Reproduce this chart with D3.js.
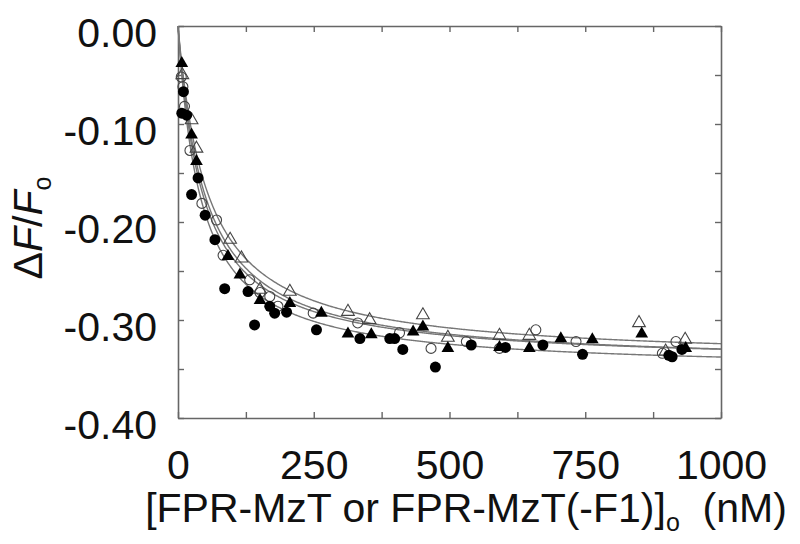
<!DOCTYPE html>
<html>
<head>
<meta charset="utf-8">
<script src="https://cdn.jsdelivr.net/npm/d3@7"></script>
<style>
  body { margin: 0; background: #fff; }
  svg { font-family: "Liberation Sans", Arial, Helvetica, sans-serif; }
</style>
</head>
<body>
<svg width="800" height="544"></svg>
<script>
// data: [concentration (nM), dF/Fo]
const filledCircles = [
  [10, -0.067], [7, -0.089], [16, -0.091], [37, -0.155], [25, -0.172], [50, -0.193],
  [68, -0.218], [86, -0.268], [129, -0.271], [141, -0.305], [169, -0.286], [178, -0.293],
  [200, -0.292], [255, -0.310], [335, -0.319], [390, -0.319], [399, -0.319], [414, -0.330],
  [474, -0.348], [540, -0.3255], [603, -0.328], [672, -0.3255], [745, -0.335], [904, -0.336],
  [910, -0.3375], [928, -0.330]
];
const openCircles = [
  [6, -0.052], [9, -0.062], [12, -0.082], [22, -0.127], [44, -0.181], [71, -0.198],
  [83, -0.234], [132, -0.259], [151, -0.272], [169, -0.276], [184, -0.286], [249, -0.293],
  [331, -0.303], [408, -0.313], [466, -0.329], [531, -0.322], [592, -0.329], [659, -0.310],
  [733, -0.322], [892, -0.334], [917, -0.322]
];
const filledTriangles = [
  [7, -0.038], [25, -0.111], [34, -0.138], [92, -0.235], [114, -0.254], [151, -0.280],
  [206, -0.283], [264, -0.293], [313, -0.314], [356, -0.315], [433, -0.312], [451, -0.307],
  [497, -0.329], [592, -0.328], [647, -0.329], [705, -0.319], [763, -0.320], [854, -0.314],
  [935, -0.329]
];
const openTriangles = [
  [8, -0.050], [25, -0.096], [34, -0.125], [96, -0.218], [117, -0.237], [151, -0.269],
  [206, -0.271], [313, -0.2915], [353, -0.300], [451, -0.295], [497, -0.318], [592, -0.316],
  [647, -0.316], [849, -0.303], [898, -0.332], [934, -0.320]
];

// hyperbolic fit parameters for each set (Bmax, Kd in nM)
const fitBmax = [0.352, 0.346, 0.345, 0.342];
const fitKd = [42, 50, 46, 55];

const xTicks = [0, 125, 250, 375, 500, 625, 750, 875, 1000];
const yTicks = [0, -0.05, -0.10, -0.15, -0.20, -0.25, -0.30, -0.35, -0.40];

const svg = d3.select("svg");
const mLeft = 178, mRight = 721, mTop = 26, mBottom = 418;

const x = d3.scaleLinear().domain([0, 1000]).range([mLeft, mRight]);
const y = d3.scaleLinear().domain([0, -0.40]).range([mTop, mBottom]);

const axisColor = "#666";
const fmtY = d => Math.abs(d) < 1e-9 ? "0.00" : d3.format(".2f")(d).replace("\u2212", "-");

function styleAxis(g) {
  g.select(".domain").attr("stroke", axisColor).attr("stroke-width", 1.6);
  g.selectAll(".tick line").attr("stroke", axisColor).attr("stroke-width", 1.4);
  g.selectAll("text").attr("fill", "#111").style("font-size", "41px");
}

svg.append("g")
  .attr("transform", `translate(0,${mBottom})`)
  .call(d3.axisBottom(x).tickValues(xTicks).tickSizeInner(-6).tickSizeOuter(0)
    .tickPadding(32).tickFormat(d => d % 250 === 0 ? d : ""))
  .call(styleAxis);

svg.append("g")
  .attr("transform", `translate(0,${mTop})`)
  .call(d3.axisTop(x).tickValues(xTicks).tickSizeInner(-6).tickSizeOuter(0).tickFormat(""))
  .call(styleAxis);

svg.append("g")
  .attr("transform", `translate(${mLeft},0)`)
  .call(d3.axisLeft(y).tickValues(yTicks).tickSizeInner(-6).tickSizeOuter(0)
    .tickPadding(21).tickFormat((d, i) => i % 2 === 0 ? fmtY(d) : ""))
  .call(styleAxis)
  .call(g => g.selectAll("text").attr("dy", "0.5em"));

svg.append("g")
  .attr("transform", `translate(${mRight},0)`)
  .call(d3.axisRight(y).tickValues(yTicks).tickSizeInner(-6).tickSizeOuter(0).tickFormat(""))
  .call(styleAxis);

// fit curves
const curveX = d3.range(0, 1000.1, 2);
const line = d3.line().x(d => x(d[0])).y(d => y(d[1]));
const plot = svg.append("g");
fitBmax.forEach((b, i) => {
  const k = fitKd[i];
  plot.append("path")
    .datum(curveX.map(c => [c, -b * c / (k + c)]))
    .attr("d", line)
    .attr("fill", "none")
    .attr("stroke", "#777")
    .attr("stroke-width", 1.4);
});

// markers
const triangle = d3.symbol().type(d3.symbolTriangle).size(70);
plot.selectAll(".ot").data(openTriangles).join("path")
  .attr("transform", d => `translate(${x(d[0])},${y(d[1])})`)
  .attr("d", triangle)
  .attr("fill", "none").attr("stroke", "#444").attr("stroke-width", 1.1);
plot.selectAll(".oc").data(openCircles).join("circle")
  .attr("cx", d => x(d[0])).attr("cy", d => y(d[1])).attr("r", 5)
  .attr("fill", "none").attr("stroke", "#444").attr("stroke-width", 1.1);
plot.selectAll(".ft").data(filledTriangles).join("path")
  .attr("transform", d => `translate(${x(d[0])},${y(d[1])})`)
  .attr("d", triangle)
  .attr("fill", "#000");
plot.selectAll(".fc").data(filledCircles).join("circle")
  .attr("cx", d => x(d[0])).attr("cy", d => y(d[1])).attr("r", 5.5)
  .attr("fill", "#000");

// axis titles
const xt = svg.append("text")
  .attr("x", 466).attr("y", 522)
  .attr("text-anchor", "middle")
  .style("font-size", "41px").attr("fill", "#111");
xt.append("tspan").text("[FPR-MzT or FPR-MzT(-F1)]");
xt.append("tspan").attr("dy", 9).style("font-size", "25px").text("o");
xt.append("tspan").attr("dy", -9).text("\u00a0 (nM)");

const yt = svg.append("text")
  .attr("transform", "translate(42,228) rotate(-90)")
  .attr("text-anchor", "middle")
  .style("font-size", "41px").attr("fill", "#111");
yt.append("tspan").text("\u0394");
yt.append("tspan").style("font-style", "italic").text("F");
yt.append("tspan").text("/");
yt.append("tspan").style("font-style", "italic").text("F");
yt.append("tspan").attr("dy", 9).style("font-size", "25px").text("o");
</script>
</body>
</html>
